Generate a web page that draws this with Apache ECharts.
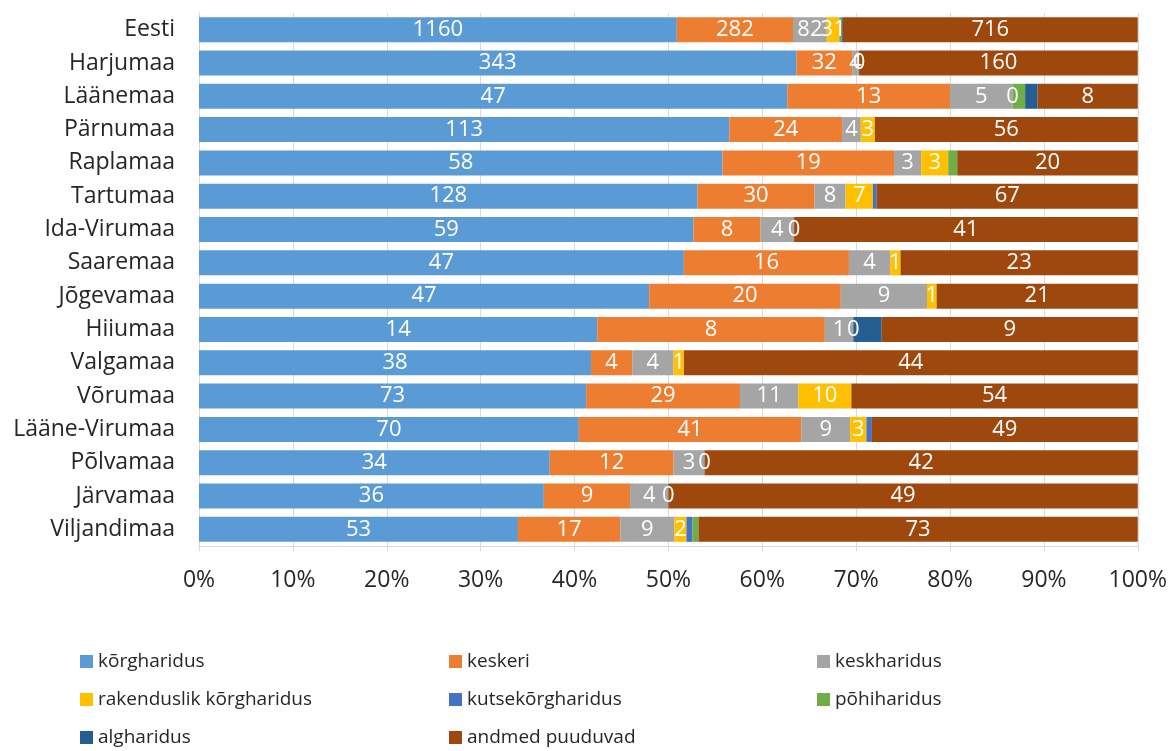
<!DOCTYPE html>
<html>
<head>
<meta charset="utf-8">
<script src="https://cdn.jsdelivr.net/npm/echarts@6/dist/echarts.min.js"></script>
<style>
  html, body { margin: 0; padding: 0; background: #fff; }
  #chart { width: 1170px; height: 751px; }
</style>
</head>
<body>
<div id="chart"></div>
<script>
// Counties (top to bottom), with the national total first
const regions = ['Eesti', 'Harjumaa', 'Läänemaa', 'Pärnumaa', 'Raplamaa', 'Tartumaa',
  'Ida-Virumaa', 'Saaremaa', 'Jõgevamaa', 'Hiiumaa', 'Valgamaa', 'Võrumaa',
  'Lääne-Virumaa', 'Põlvamaa', 'Järvamaa', 'Viljandimaa'];

// Head counts by education level
const korgharidus      = [1160, 343, 47, 113, 58, 128, 59, 47, 47, 14, 38, 73, 70, 34, 36, 53];
const keskeri          = [282, 32, 13, 24, 19, 30, 8, 16, 20, 8, 4, 29, 41, 12, 9, 17];
const keskharidus      = [82, 4, 5, 4, 3, 8, 4, 4, 9, 1, 4, 11, 9, 3, 4, 9];
const rakenduslik      = [31, 0, 0, 3, 3, 7, 0, 1, 1, 0, 1, 10, 3, 0, 0, 2];
const kutsekorg        = [3, 0, 0, 0, 0, 1, 0, 0, 0, 0, 0, 0, 1, 0, 0, 1];
const pohiharidus      = [3, 0, 1, 0, 1, 0, 0, 0, 0, 0, 0, 0, 0, 0, 0, 1];
const algharidus       = [2, 0, 1, 0, 0, 0, 0, 0, 0, 1, 0, 0, 0, 0, 0, 0];
const andmedPuuduvad   = [716, 160, 8, 56, 20, 67, 41, 23, 21, 9, 44, 54, 49, 42, 49, 73];

const xTicks = [0, 10, 20, 30, 40, 50, 60, 70, 80, 90, 100];

const seriesDefs = [
  { name: 'kõrgharidus', values: korgharidus, color: '#5B9BD5', label: true },
  { name: 'keskeri', values: keskeri, color: '#ED7D31', label: true },
  { name: 'keskharidus', values: keskharidus, color: '#A5A5A5', label: true },
  { name: 'rakenduslik kõrgharidus', values: rakenduslik, color: '#FFC000', label: true },
  { name: 'kutsekõrgharidus', values: kutsekorg, color: '#4472C4', label: false },
  { name: 'põhiharidus', values: pohiharidus, color: '#70AD47', label: false },
  { name: 'algharidus', values: algharidus, color: '#255E91', label: false },
  { name: 'andmed puuduvad', values: andmedPuuduvad, color: '#9E480E', label: true }
];

// Row totals for the 100% stacking
const totals = regions.map((_, i) => seriesDefs.reduce((s, d) => s + d.values[i], 0));

const FONT = 'Open Sans';

const series = seriesDefs.map(d => ({
  name: d.name,
  type: 'bar',
  stack: 'total',
  barCategoryGap: '25%',
  itemStyle: { color: d.color },
  emphasis: { disabled: true },
  label: {
    show: d.label,
    position: 'inside',
    color: '#fff',
    fontFamily: FONT,
    fontSize: 22,
    formatter: p => String(d.values[p.dataIndex])
  },
  labelLayout: { hideOverlap: false },
  data: d.values.map((v, i) => v / totals[i] * 100)
}));

const legendStyle = {
  orient: 'vertical',
  top: 652,
  height: 99,
  padding: 0,
  itemGap: 19,
  itemWidth: 13,
  itemHeight: 13,
  icon: 'rect',
  textStyle: { fontFamily: FONT, fontSize: 19, color: '#262626' }
};

const chart = echarts.init(document.getElementById('chart'));
chart.setOption({
  animation: false,
  color: seriesDefs.map(d => d.color),
  grid: { left: 199, right: 31, top: 13, bottom: 205, containLabel: false },
  legend: [
    Object.assign({}, legendStyle, { left: 80, data: ['kõrgharidus', 'rakenduslik kõrgharidus', 'algharidus'] }),
    Object.assign({}, legendStyle, { left: 449, data: ['keskeri', 'kutsekõrgharidus', 'andmed puuduvad'] }),
    Object.assign({}, legendStyle, { left: 817, data: ['keskharidus', 'põhiharidus'] })
  ],
  xAxis: {
    type: 'value',
    min: 0,
    max: 100,
    interval: 10,
    axisLine: { show: true, lineStyle: { color: '#D9D9D9' } },
    axisTick: { show: true, length: 5, lineStyle: { color: '#D9D9D9' } },
    splitLine: { show: true, lineStyle: { color: '#D9D9D9', width: 1 } },
    axisLabel: {
      margin: 23,
      color: '#262626',
      fontFamily: FONT,
      fontSize: 23,
      formatter: v => xTicks.includes(v) ? v + '%' : ''
    }
  },
  yAxis: {
    type: 'category',
    inverse: true,
    data: regions,
    axisLine: { show: true, lineStyle: { color: '#D9D9D9' } },
    axisTick: { show: false },
    axisLabel: {
      margin: 24,
      color: '#262626',
      fontFamily: FONT,
      fontSize: 23
    }
  },
  series: series
});
</script>
</body>
</html>
